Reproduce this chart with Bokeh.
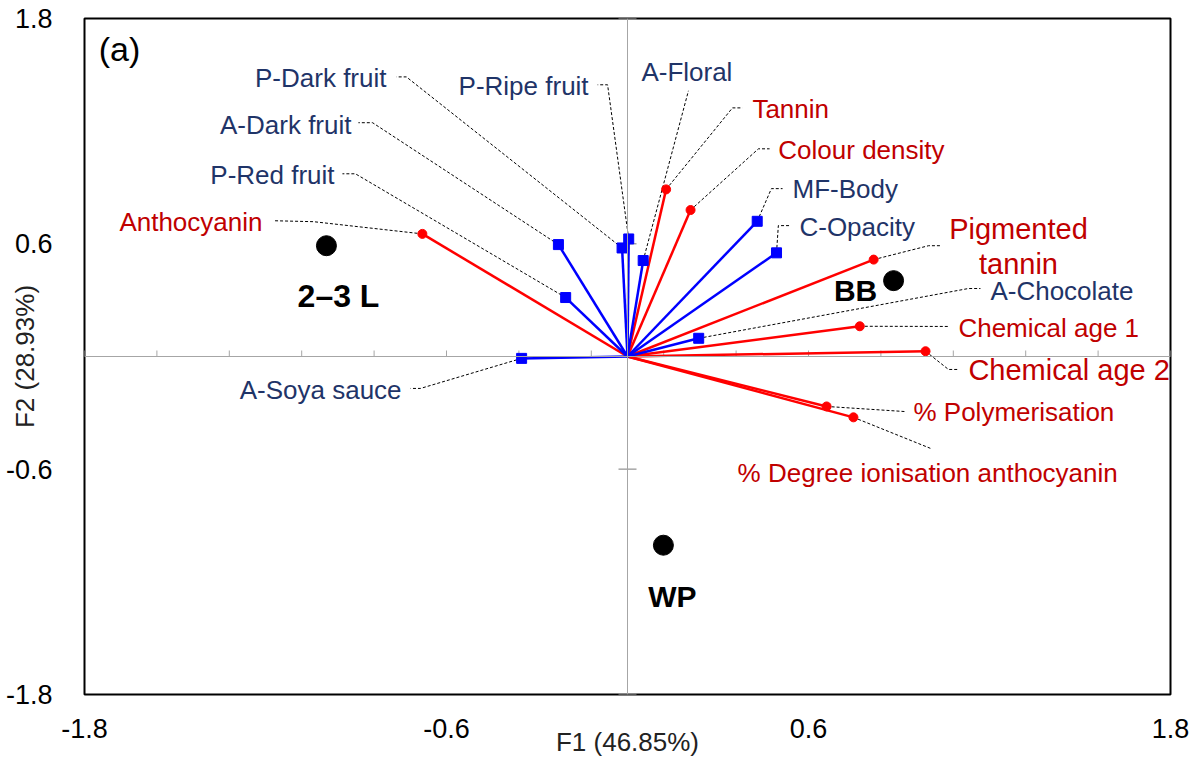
from bokeh.plotting import figure
from bokeh.models import Range1d, Span, FixedTicker, ColumnDataSource, Label
from bokeh.core.properties import value
from bokeh.embed import file_html
from bokeh.resources import INLINE
import numpy as np

# ---------------- data ----------------
sensory_names = ["A-Soya sauce", "P-Red fruit", "A-Dark fruit", "P-Dark fruit", "P-Ripe fruit",
                 "A-Floral", "MF-Body", "C-Opacity", "A-Chocolate"]
sensory_f1 = [-0.351, -0.205, -0.229, -0.018, 0.004, 0.052, 0.430, 0.494, 0.236]
sensory_f2 = [-0.010, 0.314, 0.596, 0.578, 0.626, 0.511, 0.720, 0.552, 0.097]

chem_names = ["Anthocyanin", "Tannin", "Colour density", "Pigmented\ntannin", "Chemical age 1",
              "Chemical age 2", "% Polymerisation", "% Degree ionisation anthocyanin"]
chem_f1 = [-0.680, 0.128, 0.209, 0.816, 0.770, 0.988, 0.660, 0.749]
chem_f2 = [0.653, 0.890, 0.780, 0.516, 0.161, 0.028, -0.266, -0.324]

obs_names = ["2\u20133 L", "BB", "WP"]
obs_f1 = [-0.998, 0.882, 0.119]
obs_f2 = [0.590, 0.404, -1.005]

x_ticks = [-1.8, -0.6, 0.6, 1.8]
y_ticks = [-1.8, -0.6, 0.6, 1.8]
tick_labels = ["-1.8", "-0.6", "0.6", "1.8"]
x_title = "F1 (46.85%)"
y_title = "F2 (28.93%)"
panel = "(a)"

# ---------------- label layout (annotation placement) ----------------
sens_lab_x = [-0.749, -0.971, -0.915, -0.799, -0.129, 0.046, 0.547, 0.570, 1.203]
sens_lab_y = [-0.176, 0.968, 1.234, 1.484, 1.441, 1.516, 0.894, 0.691, 0.351]
sens_align = ["right", "right", "right", "right", "right", "left", "left", "left", "left"]
sens_elb_x = [-0.686, -0.902, -0.845, -0.733, -0.066, 0.202, 0.477, 0.500, 1.130]
sens_elb_y = [-0.170, 0.973, 1.245, 1.489, 1.447, 1.415, 0.894, 0.697, 0.362]
sens_end_x = [-0.719, -0.945, -0.892, -0.766, -0.099, 0.202, 0.514, 0.537, 1.170]
sens_end_y = [-0.170, 0.973, 1.245, 1.489, 1.447, 1.415, 0.894, 0.697, 0.362]

chem_lab_x = [-1.210, 0.414, 0.500, 1.296, 1.097, 1.130, 0.948, 0.365]
chem_lab_y = [0.718, 1.319, 1.101, 0.585, 0.154, -0.074, -0.293, -0.622]
chem_align = ["right", "left", "left", "center", "left", "left", "left", "left"]
chem_size = ["26px", "26px", "26px", "29px", "26px", "29px", "26px", "26px"]
chem_elb_x = [-1.041, 0.348, 0.434, 0.998, 1.064, 1.064, 0.918, 1.004]
chem_elb_y = [0.718, 1.324, 1.106, 0.590, 0.160, -0.069, -0.293, -0.489]
chem_end_x = [-1.173, 0.381, 0.471, 1.037, 1.064, 1.097, 0.918, 1.004]
chem_end_y = [0.723, 1.324, 1.106, 0.590, 0.160, -0.069, -0.293, -0.489]

obs_lab_x = [-0.958, 0.756, 0.149]
obs_lab_y = [0.324, 0.351, -1.277]
obs_lab_size = ["32px", "30px", "30px"]

FONT = "Liberation Sans"
BLUE = "#0000FF"
RED = "#FF0000"
BLUE_TXT = "#1F3468"
RED_TXT = "#C00000"
GREY = "#A6A6A6"

p = figure(width=1204, height=759, x_range=Range1d(-1.8, 1.8), y_range=Range1d(-1.8, 1.8),
           output_backend="svg", toolbar_location=None,
           min_border_left=84, min_border_right=34, min_border_top=18, min_border_bottom=64)
p.xgrid.visible = False
p.ygrid.visible = False
p.outline_line_color = "black"
p.outline_line_width = 2
p.background_fill_color = "white"
p.border_fill_color = "white"

for ax, ticks in ((p.xaxis, x_ticks), (p.yaxis, y_ticks)):
    ax.ticker = FixedTicker(ticks=ticks)
    ax.major_label_overrides = {t: s for t, s in zip(ticks, tick_labels)}
    ax.axis_line_color = None
    ax.major_tick_line_color = None
    ax.minor_tick_line_color = None
    ax.major_label_text_font = FONT
    ax.major_label_text_font_size = "27px"
    ax.major_label_text_color = "black"
    ax.axis_label_text_font = FONT
    ax.axis_label_text_font_size = "26px"
    ax.axis_label_text_font_style = "normal"
    ax.axis_label_text_color = "#222222"

p.xaxis.axis_label = x_title
p.yaxis.axis_label = y_title
p.xaxis.major_label_standoff = 18
p.xaxis.axis_label_standoff = -14
p.yaxis.major_label_standoff = 26
p.yaxis.axis_label_standoff = -37

# central axes
p.add_layout(Span(location=0, dimension="width", line_color=GREY, line_width=1))
p.add_layout(Span(location=0, dimension="height", line_color=GREY, line_width=1))
h_ticks = [t for t in np.round(np.arange(-1.8, 1.8001, 0.24), 2) if abs(t) > 1e-9]
tick_h = 6 / 188.0
p.segment(x0=h_ticks, y0=[0] * len(h_ticks), x1=h_ticks, y1=[tick_h] * len(h_ticks),
          line_color=GREY, line_width=1)
tick_w = 9 / 301.7
p.segment(x0=[-tick_w] * len(y_ticks), y0=y_ticks, x1=[tick_w] * len(y_ticks), y1=y_ticks,
          line_color=GREY, line_width=1.5)

# leader lines
lx, ly = [], []
for i in range(len(sensory_names)):
    lx.append([sensory_f1[i], sens_elb_x[i], sens_end_x[i]])
    ly.append([sensory_f2[i], sens_elb_y[i], sens_end_y[i]])
for i in range(len(chem_names)):
    lx.append([chem_f1[i], chem_elb_x[i], chem_end_x[i]])
    ly.append([chem_f2[i], chem_elb_y[i], chem_end_y[i]])
p.multi_line(xs=lx, ys=ly, line_color="black", line_width=1, line_dash="3 2")

# vectors
ss = ColumnDataSource(dict(x0=[0] * len(sensory_f1), y0=[0] * len(sensory_f1), x=sensory_f1, y=sensory_f2))
cs = ColumnDataSource(dict(x0=[0] * len(chem_f1), y0=[0] * len(chem_f1), x=chem_f1, y=chem_f2))
p.segment(x0="x0", y0="y0", x1="x", y1="y", source=cs, line_color=RED, line_width=2.5)
p.segment(x0="x0", y0="y0", x1="x", y1="y", source=ss, line_color=BLUE, line_width=2.5)
p.scatter(x="x", y="y", source=cs, marker="circle", size=9, fill_color=RED, line_color=RED)
p.scatter(x="x", y="y", source=ss, marker="square", size=10, fill_color=BLUE, line_color=BLUE)

# observations
p.scatter(x=obs_f1, y=obs_f2, marker="circle", size=20, fill_color="black", line_color="black")
for sz in ("32px", "30px"):
    idx = [i for i in range(len(obs_names)) if obs_lab_size[i] == sz]
    p.text(x=[obs_lab_x[i] for i in idx], y=[obs_lab_y[i] for i in idx],
           text=[obs_names[i] for i in idx], text_font=value(FONT), text_font_size=sz,
           text_font_style="bold", text_color="black", text_align="center", text_baseline="middle")

# variable labels
for al in ("left", "right"):
    idx = [i for i in range(len(sensory_names)) if sens_align[i] == al]
    p.text(x=[sens_lab_x[i] for i in idx], y=[sens_lab_y[i] for i in idx],
           text=[sensory_names[i] for i in idx], text_font=value(FONT), text_font_size="26px",
           text_color=BLUE_TXT, text_align=al, text_baseline="middle")
for al in ("left", "right", "center"):
    for sz in ("26px", "29px"):
        idx = [i for i in range(len(chem_names)) if chem_align[i] == al and chem_size[i] == sz]
        if not idx:
            continue
        p.text(x=[chem_lab_x[i] for i in idx], y=[chem_lab_y[i] for i in idx],
               text=[chem_names[i] for i in idx], text_font=value(FONT), text_font_size=sz,
               text_color=RED_TXT, text_align=al, text_baseline="middle", text_line_height=1.1)

p.add_layout(Label(x=-1.753, y=1.638, text=panel, text_font=FONT, text_font_size="34px",
                   text_color="black", text_align="left", text_baseline="middle"))

open("out.html", "w").write(file_html(p, INLINE))
